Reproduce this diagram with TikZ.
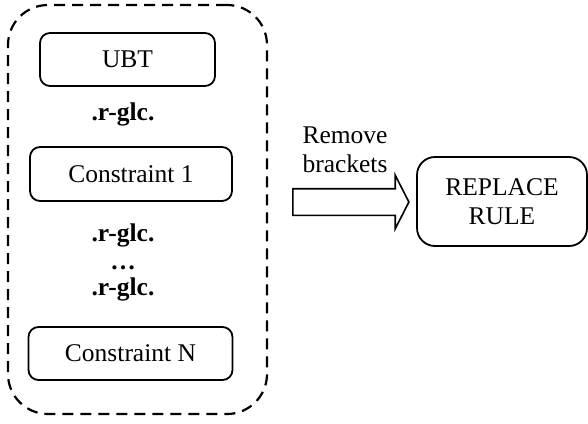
\documentclass[tikz,border=0pt]{standalone}
\usepackage{fontspec}
\setmainfont{Liberation Serif}
\usetikzlibrary{shapes.arrows}
\tikzset{
    stepbox/.style={draw, line width=1.8pt, rounded corners=10pt, inner sep=0pt},
    groupbox/.style={draw, line width=2.2pt, dash pattern=on 11pt off 7pt, rounded corners=40pt, inner sep=0pt},
    joiner/.style={font=\fontsize{25.5}{28.5}\selectfont\bfseries, anchor=base}
}
\begin{document}
\begin{tikzpicture}[x=1pt, y=-1pt, font=\fontsize{25.5}{28.5}\selectfont]
    \useasboundingbox (0,0) rectangle (588,423);

    % The dashed group holding the rule parts
    \node[groupbox, minimum width=259pt, minimum height=409pt] (group) at (137.5,209.5) {};

    % Boxes inside the group
    \node[stepbox, minimum width=175pt, minimum height=53pt] (ubt) at (127.5,59.5) {UBT};
    \node[stepbox, minimum width=202pt, minimum height=54pt] (cone) at (131,174) {Constraint 1};
    \node[stepbox, minimum width=204pt, minimum height=53pt] (cn) at (130.5,353.5) {Constraint N};

    % Joining terms
    \node[joiner] (glcone) at (123,120) {.r-glc.};
    \node[joiner] (glctwo) at (123,241) {.r-glc.};
    \node[joiner] (dots) at (123,269) {\dots};
    \node[joiner] (glcthree) at (123,295) {.r-glc.};

    % Block arrow and its label
    \node[draw, line width=1.6pt, shape=single arrow, inner xsep=0pt, inner ysep=12.5pt,
          minimum height=116pt, minimum width=52pt,
          single arrow head extend=13.5pt, single arrow head indent=0pt,
          single arrow tip angle=126] (remove) at (347.5,202) {};
    \node[align=center, inner sep=0pt] (removelabel) at (345,150) {Remove\\brackets};

    % Result
    \node[stepbox, rounded corners=18pt, align=center, minimum width=170pt, minimum height=89pt] (replace) at (502,201.5) {REPLACE\\RULE};
\end{tikzpicture}
\end{document}
